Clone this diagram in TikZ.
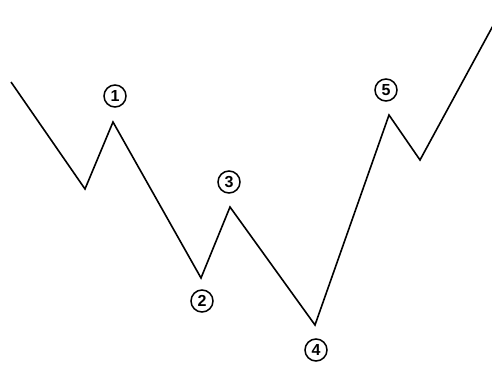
\documentclass[tikz,border=0pt]{standalone}
\usepackage{fontspec}
\setmainfont{Liberation Sans}
\begin{document}
\begin{tikzpicture}[x=1pt,y=-1pt,
  wave/.style={line width=1.6pt,line join=miter,black},
  wlabel/.style={circle,draw,line width=1.5pt,minimum size=22pt,inner sep=0pt,font=\fontsize{16}{16}\selectfont\bfseries}]
\useasboundingbox (0,0) rectangle (492,364);
\coordinate (p0) at (11,82);
\coordinate (p1) at (85,189);
\coordinate (p2) at (113,122);
\coordinate (p3) at (201,278);
\coordinate (p4) at (230,207);
\coordinate (p5) at (315,325);
\coordinate (p6) at (389,115);
\coordinate (p7) at (420,160);
\coordinate (p8) at (495,22);
\draw[wave] (p0) -- (p1) -- (p2) -- (p3) -- (p4) -- (p5) -- (p6) -- (p7) -- (p8);
\node[wlabel] (l1) at (115,96) {1};
\node[wlabel] (l2) at (202,301) {2};
\node[wlabel] (l3) at (229,182) {3};
\node[wlabel] (l4) at (316,350) {4};
\node[wlabel] (l5) at (386,90) {5};
\end{tikzpicture}
\end{document}
